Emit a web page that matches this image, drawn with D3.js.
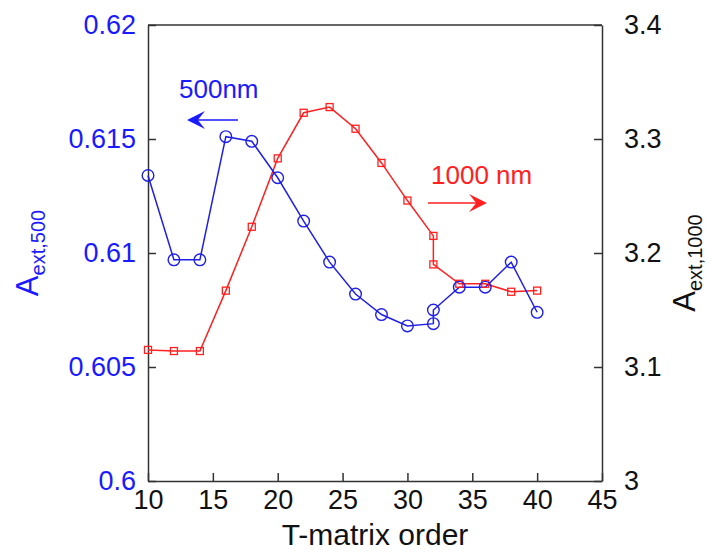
<!DOCTYPE html>
<html>
<head>
<meta charset="utf-8">
<script src="https://cdn.jsdelivr.net/npm/d3@7"></script>
<style>
  body { margin: 0; background: #fff; }
  svg { display: block; font-family: "Liberation Sans", Arial, sans-serif; }
</style>
</head>
<body>
<div id="chart"></div>
<script>
// T-matrix order (x), two points at 32
var orders = [10, 12, 14, 16, 18, 20, 22, 24, 26, 28, 30, 32, 32, 34, 36, 38, 40];
// A_ext,500 (left axis, blue circles)
var a500 = [0.6134, 0.6097, 0.6097, 0.6151, 0.6149, 0.6133, 0.6114, 0.6096, 0.6082,
            0.6073, 0.6068, 0.6069, 0.6075, 0.6085, 0.6085, 0.6096, 0.6074];
// A_ext,1000 (right axis, red squares)
var a1000 = [3.115, 3.114, 3.114, 3.167, 3.223, 3.283, 3.323, 3.328, 3.309,
             3.279, 3.246, 3.215, 3.190, 3.173, 3.173, 3.166, 3.167];

var xTicks = [10, 15, 20, 25, 30, 35, 40, 45];
var leftTicks = [0.6, 0.605, 0.61, 0.615, 0.62];
var rightTicks = [3, 3.1, 3.2, 3.3, 3.4];

var margin = {top: 25, right: 106, bottom: 72, left: 148},
    width = 708 - margin.left - margin.right,
    height = 553 - margin.top - margin.bottom;

var svg = d3.select("#chart")
  .append("svg")
    .attr("width", 708)
    .attr("height", 553);

var g = svg.append("g")
    .attr("transform", "translate(" + margin.left + "," + margin.top + ")");

var x = d3.scaleLinear().domain([10, 45]).range([0, width]);
var yL = d3.scaleLinear().domain([0.6, 0.62]).range([height, 0]);
var yR = d3.scaleLinear().domain([3, 3.4]).range([height, 0]);

var axisColor = "#333";
var blue = "#1a1aff", red = "#ff2020";

// box top line
g.append("line")
  .attr("x1", 0).attr("x2", width).attr("y1", 0).attr("y2", 0)
  .attr("stroke", axisColor).attr("stroke-width", 1.5);

// bottom axis, ticks inward
var xAxis = g.append("g")
  .attr("transform", "translate(0," + height + ")")
  .call(d3.axisBottom(x).tickValues(xTicks).tickSize(-8).tickSizeOuter(0).tickPadding(9));
xAxis.selectAll("text").attr("font-size", 27).attr("fill", "#111").attr("font-family", null);

// left axis
var lAxis = g.append("g")
  .call(d3.axisLeft(yL).tickValues(leftTicks).tickSize(-8).tickSizeOuter(0).tickPadding(12)
        .tickFormat(d3.format("")));
lAxis.selectAll("text").attr("font-size", 27).attr("fill", blue).attr("font-family", null);

// right axis
var rAxis = g.append("g")
  .attr("transform", "translate(" + width + ",0)")
  .call(d3.axisRight(yR).tickValues(rightTicks).tickSize(-8).tickSizeOuter(0).tickPadding(22)
        .tickFormat(d3.format("")));
rAxis.selectAll("text").attr("font-size", 27).attr("fill", "#111").attr("font-family", null);

[xAxis, lAxis, rAxis].forEach(function(a) {
  a.selectAll("path, line").attr("stroke", axisColor).attr("stroke-width", 1.5);
});

// series lines
var lineL = d3.line()
  .x(function(d, i) { return x(orders[i]); })
  .y(function(d) { return yL(d); });
var lineR = d3.line()
  .x(function(d, i) { return x(orders[i]); })
  .y(function(d) { return yR(d); });

g.append("path")
  .datum(a1000)
  .attr("d", lineR)
  .attr("fill", "none")
  .attr("stroke", red)
  .attr("stroke-width", 1.5);

g.append("path")
  .datum(a500)
  .attr("d", lineL)
  .attr("fill", "none")
  .attr("stroke", "#1f1fe6")
  .attr("stroke-width", 1.5);

// red squares
g.selectAll(".sq")
  .data(a1000)
  .enter()
  .append("rect")
    .attr("x", function(d, i) { return x(orders[i]) - 3.5; })
    .attr("y", function(d) { return yR(d) - 3.5; })
    .attr("width", 7)
    .attr("height", 7)
    .attr("fill", "none")
    .attr("stroke", red)
    .attr("stroke-width", 1.3);

// blue circles
g.selectAll(".circ")
  .data(a500)
  .enter()
  .append("circle")
    .attr("cx", function(d, i) { return x(orders[i]); })
    .attr("cy", function(d) { return yL(d); })
    .attr("r", 5.8)
    .attr("fill", "none")
    .attr("stroke", "#1f1fe6")
    .attr("stroke-width", 1.4);

// annotation arrows
function arrow(x1, x2, y, color) {
  var dir = x2 > x1 ? 1 : -1;
  g.append("line")
    .attr("x1", x1).attr("x2", x2 - dir * 10).attr("y1", y).attr("y2", y)
    .attr("stroke", color).attr("stroke-width", 1.7);
  var L = 18, h = 9;
  g.append("path")
    .attr("d", "M" + x2 + "," + y +
               "L" + (x2 - dir * L) + "," + (y - h) +
               "L" + (x2 - dir * L * 0.6) + "," + y +
               "L" + (x2 - dir * L) + "," + (y + h) + "Z")
    .attr("fill", color);
}

g.append("text")
  .attr("x", 179 - margin.left).attr("y", 98 - margin.top)
  .attr("font-size", 26).attr("fill", blue)
  .text("500nm");
arrow(238 - margin.left, 187 - margin.left, 120 - margin.top, blue);

g.append("text")
  .attr("x", 431 - margin.left).attr("y", 184 - margin.top)
  .attr("font-size", 26).attr("fill", red)
  .text("1000 nm");
arrow(428 - margin.left, 487 - margin.left, 203 - margin.top, red);

// axis titles
svg.append("text")
  .attr("x", margin.left + width / 2)
  .attr("y", 545)
  .attr("text-anchor", "middle")
  .attr("font-size", 30)
  .attr("fill", "#111")
  .text("T-matrix order");

var tl = svg.append("text")
  .attr("transform", "translate(38," + (margin.top + height / 2) + ") rotate(-90)")
  .attr("text-anchor", "middle")
  .attr("fill", blue);
tl.append("tspan").attr("font-size", 31).text("A");
tl.append("tspan").attr("font-size", 20).attr("dy", 7).text("ext,500");

var tr = svg.append("text")
  .attr("transform", "translate(695," + (margin.top + height / 2 + 10) + ") rotate(-90)")
  .attr("text-anchor", "middle")
  .attr("fill", "#111");
tr.append("tspan").attr("font-size", 31).text("A");
tr.append("tspan").attr("font-size", 20).attr("dy", 7).text("ext,1000");
</script>
</body>
</html>
